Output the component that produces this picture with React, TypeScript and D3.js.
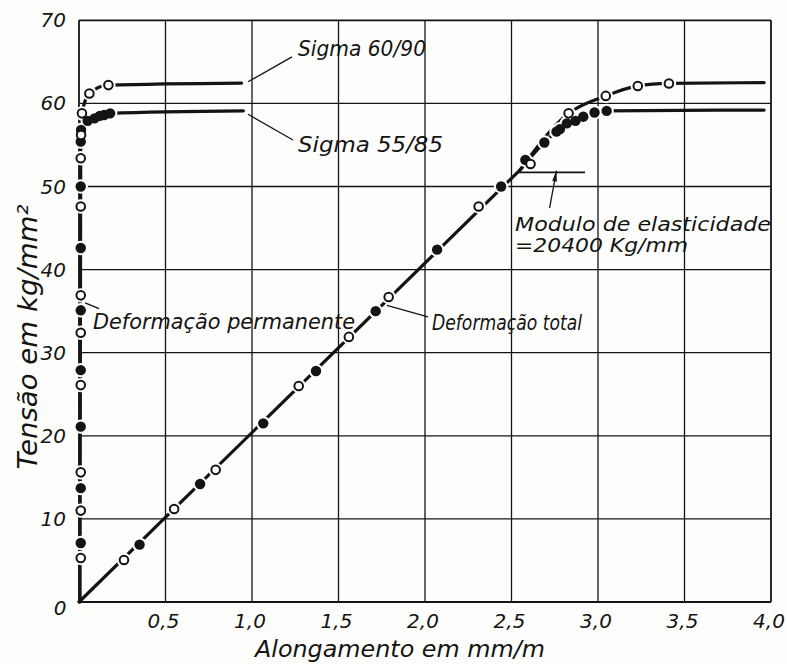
import React, { useEffect, useRef } from 'react';
import * as d3 from 'd3';

// chart data (strain mm/m, stress kg/mm2)
const xTicks = [0.5, 1.0, 1.5, 2.0, 2.5, 3.0, 3.5, 4.0];
const yTicks = [10, 20, 30, 40, 50, 60, 70];

// deformacao permanente
const permBase = [[0.006, 0], [0.008, 30], [0.01, 56.2]];
const permOpen = [[0.01, 5.3], [0.01, 11.0], [0.01, 15.6], [0.01, 26.1], [0.01, 32.4], [0.01, 36.9], [0.01, 47.6], [0.01, 53.4], [0.012, 56.2], [0.017, 58.8], [0.06, 61.2], [0.17, 62.2]];
const permFilled = [[0.01, 7.1], [0.01, 13.7], [0.01, 21.1], [0.01, 27.9], [0.01, 35.1], [0.01, 42.6], [0.01, 50.0], [0.01, 55.4], [0.012, 56.8], [0.05, 57.9], [0.09, 58.2], [0.12, 58.5], [0.145, 58.6], [0.18, 58.8]];
const sigma6090Perm = [[0.01, 56.2], [0.017, 58.8], [0.06, 61.2], [0.17, 62.2], [0.94, 62.45]];
const sigma5585Perm = [[0.012, 56.8], [0.05, 57.9], [0.09, 58.2], [0.12, 58.5], [0.18, 58.8], [0.95, 59.1]];

// deformacao total
const totalBase = [[0, 0], [2.55, 52.0]];
const totalOpen = [[0.26, 5.05], [0.55, 11.2], [0.79, 15.9], [1.27, 26.0], [1.56, 31.9], [1.79, 36.7], [2.31, 47.6], [2.61, 52.7], [2.83, 58.8], [3.045, 60.9], [3.23, 62.1], [3.41, 62.4]];
const totalFilled = [[0.35, 6.9], [0.70, 14.2], [1.065, 21.5], [1.37, 27.8], [1.715, 35.0], [2.07, 42.4], [2.44, 50.0], [2.58, 53.2], [2.69, 55.3], [2.76, 56.6], [2.78, 56.9], [2.82, 57.6], [2.87, 57.9], [2.915, 58.4], [2.98, 58.9], [3.05, 59.1]];
const sigma6090Total = [[2.55, 52.0], [2.83, 58.8], [3.045, 60.9], [3.23, 62.1], [3.41, 62.4], [3.96, 62.5]];
const sigma5585Total = [[2.55, 52.0], [2.69, 55.3], [2.82, 57.6], [2.915, 58.4], [3.05, 59.1], [3.96, 59.2]];

// modulo de elasticidade marker
const modLine = [[2.53, 51.7], [2.925, 51.7]];
const modArrow = [[2.72, 47.4], [2.76, 51.9]];

// leaders
const leaders = [
  [[0.977, 62.6], [1.231, 65.6]],
  [[0.977, 58.7], [1.237, 55.6]],
  [[0.035, 36.0], [0.116, 35.3]],
  [[1.78, 35.7], [2.017, 34.3]],
];

const W = 787, H = 664;
const INK = '#141414';
const PAPER = '#fdfdfb';
const FONT = '"DejaVu Sans", sans-serif';

export default function App() {
  const ref = useRef<SVGSVGElement>(null);

  useEffect(() => {
    document.body.style.margin = '0';
    const svg = d3.select(ref.current);
    svg.selectAll('*').remove();

    const x = d3.scaleLinear().domain([0, 4]).range([79, 771]);
    const y = d3.scaleLinear().domain([0, 70]).range([602, 20.3]);

    svg.append('rect').attr('width', W).attr('height', H).attr('fill', PAPER);

    // grid
    const g = svg.append('g');
    g.selectAll('.vx').data([0].concat(xTicks)).enter().append('line')
      .attr('x1', d => x(d)).attr('x2', d => x(d))
      .attr('y1', y(0)).attr('y2', y(70))
      .attr('stroke', INK).attr('stroke-width', d => (d === 0 || d === 4 ? 1.8 : 1.3));
    g.selectAll('.hy').data([0].concat(yTicks)).enter().append('line')
      .attr('x1', x(0)).attr('x2', x(4))
      .attr('y1', d => y(d)).attr('y2', d => y(d))
      .attr('stroke', INK).attr('stroke-width', d => (d === 0 || d === 70 ? 1.8 : 1.3));

    // tick labels
    const tickStyle = (s: any) => s.style('font-family', FONT).style('font-style', 'italic')
      .style('font-size', '20px').attr('fill', INK);
    g.selectAll('.xt').data(xTicks).enter().append('text')
      .attr('x', d => x(d) - 2).attr('y', 628)
      .attr('text-anchor', 'middle')
      .call(tickStyle)
      .text(d => d.toFixed(1).replace('.', ','));
    g.selectAll('.yt').data(yTicks).enter().append('text')
      .attr('x', 66).attr('y', d => y(d) + 7)
      .attr('text-anchor', 'end')
      .call(tickStyle)
      .text(d => String(d));
    g.append('text').attr('x', 60).attr('y', 615).attr('text-anchor', 'middle')
      .call(tickStyle).text('0');

    const line = d3.line<number[]>().x(d => x(d[0])).y(d => y(d[1]));
    const curve = d3.line<number[]>().x(d => x(d[0])).y(d => y(d[1])).curve(d3.curveMonotoneX);

    const paths: [number[][], boolean][] = [
      [permBase, false], [sigma6090Perm, true], [sigma5585Perm, true],
      [totalBase, false], [sigma6090Total, true], [sigma5585Total, true],
    ];
    paths.forEach(([data, smooth]) => {
      svg.append('path').attr('d', (smooth ? curve : line)(data))
        .attr('fill', 'none').attr('stroke', INK).attr('stroke-width', 3.2)
        .attr('stroke-linecap', 'round');
    });

    // thin lines
    svg.append('path').attr('d', line(modLine)).attr('stroke', INK).attr('stroke-width', 1.6).attr('fill', 'none');
    leaders.forEach(l => {
      svg.append('path').attr('d', line(l)).attr('stroke', INK).attr('stroke-width', 1.3).attr('fill', 'none');
    });
    svg.append('path').attr('d', line(modArrow)).attr('stroke', INK).attr('stroke-width', 1.3).attr('fill', 'none');
    const tip = modArrow[1], tail = modArrow[0];
    const ang = Math.atan2(y(tip[1]) - y(tail[1]), x(tip[0]) - x(tail[0]));
    const tx = x(tip[0]), ty = y(tip[1]);
    svg.append('path')
      .attr('d', `M${tx},${ty} L${tx - 11 * Math.cos(ang - 0.22)},${ty - 11 * Math.sin(ang - 0.22)} L${tx - 11 * Math.cos(ang + 0.22)},${ty - 11 * Math.sin(ang + 0.22)} Z`)
      .attr('fill', INK);

    // markers with halo
    const filled = permFilled.concat(totalFilled);
    const open = permOpen.concat(totalOpen);
    svg.selectAll('.halo').data(filled.concat(open)).enter().append('circle')
      .attr('cx', d => x(d[0])).attr('cy', d => y(d[1])).attr('r', 7.2)
      .attr('fill', PAPER);
    svg.selectAll('.fm').data(filled).enter().append('circle')
      .attr('cx', d => x(d[0])).attr('cy', d => y(d[1])).attr('r', 5.2)
      .attr('fill', INK);
    svg.selectAll('.om').data(open).enter().append('circle')
      .attr('cx', d => x(d[0])).attr('cy', d => y(d[1])).attr('r', 4.3)
      .attr('fill', PAPER).attr('stroke', INK).attr('stroke-width', 2);

    // labels
    const label = (t: string, lx: number, ly: number, len: number, size: number) =>
      svg.append('text').attr('x', lx).attr('y', ly)
        .attr('textLength', len).attr('lengthAdjust', 'spacingAndGlyphs')
        .style('font-family', FONT).style('font-style', 'italic').style('font-size', size + 'px')
        .attr('fill', INK).text(t);
    label('Sigma 60/90', 298, 56, 128, 21);
    label('Sigma 55/85', 298, 152, 145, 21);
    label('Deformação permanente', 93, 329, 262, 22);
    label('Deformação total', 432, 330, 150, 21);
    label('Modulo de elasticidade', 515, 231, 256, 19);
    label('=20400 Kg/mm', 515, 252, 173, 19);
    label('Alongamento em mm/m', 255, 657, 290, 23);

    svg.append('text')
      .attr('transform', 'translate(37,337) rotate(-90)')
      .attr('text-anchor', 'middle')
      .attr('textLength', 265).attr('lengthAdjust', 'spacingAndGlyphs')
      .style('font-family', FONT).style('font-style', 'italic').style('font-size', '26px')
      .attr('fill', INK).text('Tensão em kg/mm²');
  }, []);

  return <svg ref={ref} width={W} height={H} style={{ display: 'block' }} />;
}
